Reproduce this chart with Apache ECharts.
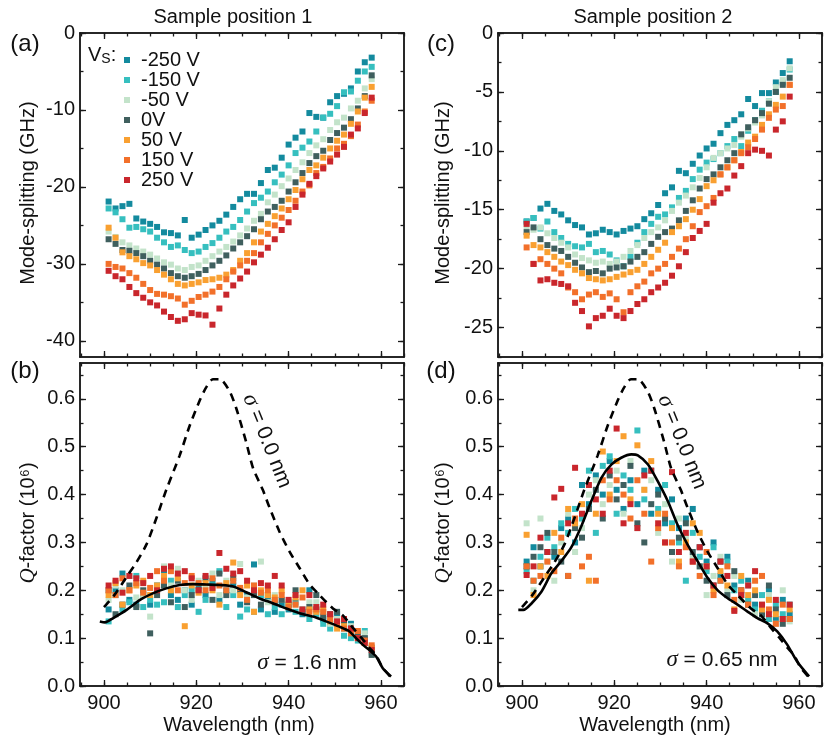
<!DOCTYPE html>
<html>
<head>
<meta charset="utf-8">
<title>Mode splitting and Q-factor vs wavelength</title>
<script src="https://cdn.jsdelivr.net/npm/echarts@6/dist/echarts.min.js"></script>
<style>
  html, body { margin: 0; padding: 0; background: #fff; }
  #chart { width: 830px; height: 747px; }
</style>
</head>
<body>
<div id="chart"></div>
<script>
// wavelength grid of the measured modes (nm)
const wavelength = [901, 902.5, 904, 905.5, 907, 908.5, 910, 911.5, 913, 914.5, 916, 917.5, 919, 920.5, 922, 923.5, 925, 926.5, 928, 929.5, 931, 932.5, 934, 935.5, 937, 938.5, 940, 941.5, 943, 944.5, 946, 947.5, 949, 950.5, 952, 953.5, 955, 956.5, 958]
const voltages = ['-250 V', '-150 V', '-50 V', '0V', '50 V', '150 V', '250 V']
const colors = ['#138a9e', '#36bfbf', '#c3e3ca', '#3f5f5e', '#f9a031', '#f2702a', '#c9262c']

// (a) mode splitting, sample position 1 (GHz)
const splitPos1_m250 = [-21.9, -22.8, -22.5, -22.2, -24.1, -24.5, -24.8, -25.2, -25.9, -26.0, -26.3, -24.3, -26.6, -26.2, -25.6, -25.0, -24.4, -23.6, -22.6, -21.6, -20.9, -20.9, -19.5, -17.8, -17.5, -16.2, -14.5, -13.6, -12.8, -10.4, -10.9, -11.0, -9.0, -8.2, -7.9, -7.2, -5.0, -3.8, -3.2]
const splitPos1_m150 = [-22.8, -23.3, -24.2, -25.3, -25.2, -25.5, -25.8, -26.6, -27.2, -27.8, -27.6, -28.2, -28.6, -28.4, -27.8, -27.3, -26.6, -25.8, -25.2, -24.3, -23.2, -22.1, -21.4, -20.6, -19.4, -18.4, -17.2, -15.6, -14.9, -14.1, -12.8, -11.0, -10.5, -9.5, -7.7, -7.6, -6.2, -5.0, -4.4]
const splitPos1_m50 = [-25.8, -26.5, -27.2, -27.6, -28.0, -28.4, -28.8, -29.3, -29.8, -30.1, -30.6, -30.8, -30.4, -30.2, -29.6, -29.0, -28.4, -27.8, -27.1, -26.3, -25.4, -24.4, -23.5, -22.0, -21.0, -19.9, -18.9, -17.8, -16.8, -15.6, -14.6, -13.8, -12.6, -11.6, -11.0, -9.8, -8.8, -7.2, -6.0]
const splitPos1_0 = [-26.8, -27.4, -28.2, -28.3, -28.6, -29.0, -29.6, -30.1, -30.6, -31.2, -31.6, -31.8, -31.6, -31.3, -30.8, -30.2, -29.6, -28.9, -28.0, -27.2, -26.4, -25.5, -24.2, -23.2, -22.6, -21.8, -20.6, -19.4, -18.2, -16.9, -16.0, -15.3, -13.9, -13.0, -12.3, -11.2, -9.8, -8.2, -5.5]
const splitPos1_p50 = [-25.3, -26.6, -28.5, -29.0, -29.4, -29.9, -30.2, -30.8, -31.4, -32.0, -32.6, -32.8, -32.6, -32.4, -32.1, -32.0, -31.8, -31.4, -30.8, -29.6, -28.6, -27.2, -25.8, -24.8, -23.8, -22.8, -21.6, -20.4, -19.0, -17.8, -17.2, -16.2, -15.0, -14.0, -13.2, -11.8, -10.2, -8.4, -7.0]
const splitPos1_p150 = [-30.0, -30.4, -30.6, -31.2, -31.8, -32.6, -33.4, -33.9, -34.0, -34.2, -34.5, -35.3, -34.8, -34.3, -34.0, -33.6, -33.0, -32.0, -31.0, -30.2, -29.6, -28.6, -27.2, -26.1, -25.0, -24.0, -23.0, -21.8, -20.6, -19.8, -18.2, -17.4, -16.3, -15.0, -14.4, -13.4, -11.9, -10.2, -8.8]
const splitPos1_p250 = [-30.9, -31.6, -32.0, -33.0, -33.8, -34.4, -35.0, -35.4, -36.2, -36.9, -37.4, -37.2, -36.4, -36.6, -36.7, -37.9, -35.8, -34.0, -32.8, -31.9, -31.0, -29.8, -28.8, -27.9, -26.8, -25.6, -24.6, -22.6, -21.0, -19.6, -18.6, -17.6, -16.7, -15.8, -14.8, -13.2, -12.4, -10.4, -8.4]

// (c) mode splitting, sample position 2 (GHz)
const splitPos2_m250 = [-16.0, -15.7, -14.9, -14.5, -15.1, -15.4, -15.9, -16.3, -16.5, -17.1, -17.0, -16.7, -16.9, -17.1, -16.8, -16.6, -16.4, -15.8, -15.3, -14.6, -13.6, -13.1, -11.7, -11.9, -11.1, -10.4, -9.8, -9.4, -8.5, -7.8, -7.4, -6.9, -5.6, -6.2, -5.1, -5.1, -4.2, -3.4, -2.4]
const splitPos2_m150 = [-16.0, -15.7, -16.6, -16.0, -16.9, -17.4, -17.9, -18.1, -18.2, -17.9, -18.6, -18.5, -18.8, -19.3, -19.8, -19.0, -17.8, -16.9, -16.2, -15.6, -15.4, -14.8, -14.0, -13.4, -12.4, -11.6, -11.0, -10.7, -10.2, -9.6, -9.0, -9.6, -8.3, -7.4, -6.6, -5.8, -5.0, -4.2, -3.1]
const splitPos2_m50 = [-16.4, -16.7, -16.5, -17.0, -17.4, -17.8, -18.2, -18.8, -19.1, -19.3, -19.5, -19.4, -19.6, -19.4, -19.0, -18.5, -18.0, -17.4, -16.9, -16.5, -15.9, -15.1, -14.4, -13.8, -13.1, -12.3, -11.4, -10.6, -10.2, -9.8, -9.5, -8.8, -8.1, -7.6, -7.0, -5.8, -4.6, -4.0, -3.0]
const splitPos2_0 = [-16.9, -16.5, -17.5, -18.0, -18.3, -18.5, -19.0, -19.5, -19.9, -20.3, -20.2, -20.4, -20.0, -19.9, -19.8, -19.4, -19.0, -18.6, -17.9, -17.3, -16.9, -16.6, -15.9, -15.1, -14.2, -13.2, -12.4, -12.0, -11.4, -10.8, -10.2, -8.6, -8.0, -7.4, -6.8, -6.0, -5.0, -4.4, -3.8]
const splitPos2_p50 = [-17.2, -18.0, -18.2, -18.6, -19.0, -19.4, -19.7, -20.1, -20.4, -20.8, -20.9, -21.0, -20.9, -20.7, -20.5, -20.3, -20.1, -19.6, -19.0, -18.4, -17.8, -16.9, -16.4, -15.8, -15.0, -14.1, -13.0, -12.5, -12.0, -11.4, -10.8, -10.1, -9.3, -8.8, -7.8, -6.9, -6.1, -5.4, -4.4]
const splitPos2_p150 = [-18.2, -19.6, -19.2, -19.6, -20.0, -20.4, -21.6, -22.0, -22.6, -22.2, -22.0, -22.4, -22.1, -22.6, -23.7, -22.0, -21.5, -21.1, -20.4, -20.0, -19.6, -19.0, -18.3, -17.5, -16.4, -15.2, -14.7, -14.0, -12.0, -11.4, -10.8, -10.2, -9.7, -9.0, -8.2, -7.2, -6.5, -6.2, -4.4]
const splitPos2_p250 = [-16.2, -19.6, -21.0, -20.9, -21.2, -21.3, -21.5, -22.9, -23.6, -24.9, -24.2, -24.0, -23.4, -24.0, -24.2, -23.6, -23.0, -22.6, -22.0, -21.6, -21.2, -20.6, -19.8, -18.6, -17.4, -16.8, -16.2, -14.4, -13.6, -13.2, -12.1, -11.3, -10.2, -9.9, -10.0, -10.4, -8.2, -7.5, -5.4]

// (b) Q-factor, sample position 1 (10^6)
const qPos1_m250 = [0.16, 0.20, 0.235, 0.18, 0.17, 0.19, 0.17, 0.21, 0.235, 0.19, 0.18, 0.20, 0.17, 0.21, 0.19, 0.22, 0.18, 0.20, 0.21, 0.17, 0.19, 0.254, 0.16, 0.18, 0.155, 0.17, 0.16, 0.175, 0.15, 0.20, 0.16, 0.14, 0.13, 0.15, 0.12, 0.13, 0.11, 0.10, 0.08]
const qPos1_m150 = [0.135, 0.19, 0.16, 0.175, 0.23, 0.165, 0.18, 0.17, 0.175, 0.22, 0.165, 0.19, 0.20, 0.155, 0.18, 0.21, 0.24, 0.165, 0.19, 0.145, 0.16, 0.155, 0.19, 0.15, 0.165, 0.15, 0.17, 0.155, 0.16, 0.14, 0.15, 0.13, 0.12, 0.14, 0.105, 0.10, 0.095, 0.115, 0.07]
const qPos1_m50 = [0.18, 0.21, 0.20, 0.23, 0.185, 0.19, 0.145, 0.20, 0.25, 0.21, 0.245, 0.20, 0.18, 0.22, 0.21, 0.235, 0.19, 0.22, 0.20, 0.255, 0.185, 0.21, 0.26, 0.175, 0.19, 0.18, 0.165, 0.17, 0.16, 0.175, 0.175, 0.15, 0.13, 0.14, 0.12, 0.125, 0.105, 0.11, 0.065]
const qPos1_0 = [0.20, 0.15, 0.17, 0.21, 0.165, 0.20, 0.11, 0.19, 0.21, 0.175, 0.22, 0.165, 0.19, 0.20, 0.225, 0.18, 0.235, 0.19, 0.225, 0.20, 0.175, 0.19, 0.17, 0.19, 0.175, 0.18, 0.17, 0.20, 0.155, 0.165, 0.19, 0.145, 0.15, 0.155, 0.13, 0.12, 0.11, 0.10, 0.065]
const qPos1_p50 = [0.19, 0.215, 0.17, 0.20, 0.21, 0.22, 0.19, 0.21, 0.23, 0.20, 0.225, 0.125, 0.21, 0.195, 0.215, 0.20, 0.17, 0.215, 0.258, 0.19, 0.21, 0.155, 0.20, 0.19, 0.185, 0.20, 0.175, 0.185, 0.20, 0.16, 0.155, 0.16, 0.135, 0.12, 0.125, 0.115, 0.10, 0.09, 0.08]
const qPos1_p150 = [0.20, 0.19, 0.225, 0.20, 0.215, 0.195, 0.205, 0.24, 0.22, 0.24, 0.20, 0.215, 0.23, 0.215, 0.20, 0.225, 0.21, 0.20, 0.22, 0.205, 0.18, 0.21, 0.195, 0.20, 0.18, 0.19, 0.165, 0.17, 0.185, 0.155, 0.16, 0.155, 0.14, 0.13, 0.12, 0.11, 0.115, 0.095, 0.085]
const qPos1_p250 = [0.21, 0.22, 0.195, 0.23, 0.225, 0.215, 0.23, 0.20, 0.245, 0.25, 0.235, 0.24, 0.225, 0.20, 0.23, 0.205, 0.278, 0.245, 0.235, 0.24, 0.22, 0.20, 0.215, 0.21, 0.23, 0.21, 0.18, 0.19, 0.16, 0.19, 0.165, 0.17, 0.15, 0.135, 0.14, 0.12, 0.10, 0.09, 0.075]

// (d) Q-factor, sample position 2 (10^6)
const qPos2_m250 = [0.26, 0.29, 0.25, 0.28, 0.27, 0.33, 0.35, 0.30, 0.42, 0.38, 0.44, 0.40, 0.47, 0.41, 0.37, 0.43, 0.38, 0.45, 0.36, 0.41, 0.34, 0.39, 0.33, 0.35, 0.37, 0.29, 0.26, 0.30, 0.23, 0.27, 0.21, 0.19, 0.22, 0.17, 0.15, 0.20, 0.14, 0.18, 0.15]
const qPos2_m150 = [0.24, 0.22, 0.27, 0.31, 0.29, 0.34, 0.32, 0.37, 0.35, 0.45, 0.32, 0.46, 0.48, 0.36, 0.44, 0.41, 0.534, 0.39, 0.45, 0.37, 0.42, 0.34, 0.30, 0.22, 0.32, 0.27, 0.24, 0.29, 0.22, 0.26, 0.20, 0.22, 0.18, 0.16, 0.19, 0.14, 0.17, 0.15, 0.17]
const qPos2_m50 = [0.34, 0.20, 0.35, 0.26, 0.22, 0.30, 0.36, 0.28, 0.33, 0.40, 0.43, 0.38, 0.42, 0.45, 0.36, 0.47, 0.33, 0.41, 0.43, 0.32, 0.38, 0.26, 0.35, 0.31, 0.27, 0.25, 0.19, 0.23, 0.27, 0.20, 0.23, 0.18, 0.21, 0.15, 0.17, 0.19, 0.13, 0.20, 0.135]
const qPos2_0 = [0.25, 0.27, 0.29, 0.32, 0.28, 0.26, 0.23, 0.33, 0.31, 0.37, 0.41, 0.35, 0.44, 0.39, 0.42, 0.46, 0.34, 0.30, 0.38, 0.40, 0.35, 0.28, 0.31, 0.34, 0.28, 0.25, 0.22, 0.21, 0.26, 0.19, 0.24, 0.20, 0.17, 0.19, 0.15, 0.21, 0.16, 0.13, 0.14]
const qPos2_p50 = [0.316, 0.19, 0.25, 0.23, 0.32, 0.28, 0.37, 0.34, 0.38, 0.22, 0.36, 0.49, 0.40, 0.47, 0.522, 0.39, 0.503, 0.41, 0.47, 0.36, 0.30, 0.33, 0.26, 0.30, 0.34, 0.32, 0.25, 0.20, 0.24, 0.21, 0.16, 0.23, 0.19, 0.20, 0.16, 0.18, 0.15, 0.14, 0.16]
const qPos2_p150 = [0.25, 0.22, 0.23, 0.26, 0.24, 0.31, 0.23, 0.35, 0.25, 0.27, 0.22, 0.43, 0.39, 0.43, 0.40, 0.35, 0.43, 0.36, 0.26, 0.33, 0.36, 0.30, 0.25, 0.29, 0.26, 0.23, 0.28, 0.19, 0.22, 0.25, 0.18, 0.20, 0.17, 0.22, 0.23, 0.16, 0.13, 0.17, 0.14]
const qPos2_p250 = [0.232, 0.25, 0.31, 0.28, 0.394, 0.412, 0.34, 0.456, 0.36, 0.42, 0.39, 0.36, 0.45, 0.538, 0.34, 0.38, 0.33, 0.44, 0.45, 0.34, 0.30, 0.447, 0.28, 0.32, 0.26, 0.29, 0.25, 0.21, 0.26, 0.23, 0.157, 0.19, 0.21, 0.24, 0.17, 0.15, 0.18, 0.14, 0.17]

// simulated Q curves
const sigma0Wl = [900, 902.4, 904.9, 907, 909.2, 911.4, 913.5, 916.4, 918.6, 920.8, 922.2, 923.6, 925.1, 927.2, 928.6, 930.8, 932.3, 934.4, 935.9, 938, 940.2, 942.4, 944.5, 946.7, 949.6, 951.7, 953.9, 956.1, 957.5, 959, 960.4, 962]
const sigma0Q = [0.165, 0.192, 0.228, 0.258, 0.296, 0.352, 0.41, 0.482, 0.545, 0.598, 0.625, 0.641, 0.641, 0.616, 0.582, 0.51, 0.455, 0.41, 0.372, 0.323, 0.281, 0.246, 0.213, 0.19, 0.162, 0.148, 0.122, 0.097, 0.08, 0.063, 0.038, 0.02]
const sigma16Wl = [899.1, 900.2, 902, 904.9, 907.8, 910.7, 913.5, 916.4, 919.3, 922.2, 925.1, 928, 930.8, 933.7, 936.6, 939.5, 942.4, 945.3, 948.1, 951, 953.2, 954.6, 956.1, 957.5, 959, 960.4, 962.2]
const sigma16Q = [0.135, 0.133, 0.142, 0.159, 0.18, 0.194, 0.204, 0.211, 0.213, 0.212, 0.211, 0.208, 0.196, 0.183, 0.173, 0.162, 0.152, 0.145, 0.135, 0.124, 0.114, 0.1, 0.086, 0.075, 0.061, 0.037, 0.02]
const sigma065Wl = [899.2, 900.3, 902.1, 904.2, 906.4, 908.6, 910.7, 912.9, 915, 917.2, 919.4, 921.5, 923.7, 925.1, 927.3, 929.4, 931.6, 933.7, 935.9, 938.1, 940.2, 942.4, 944.5, 946.7, 948.8, 951, 953.2, 955.3, 957.5, 959.6, 962.2]
const sigma065Q = [0.159, 0.159, 0.173, 0.197, 0.236, 0.262, 0.29, 0.335, 0.386, 0.435, 0.463, 0.477, 0.484, 0.482, 0.463, 0.428, 0.386, 0.337, 0.295, 0.26, 0.226, 0.2, 0.184, 0.17, 0.156, 0.142, 0.131, 0.114, 0.086, 0.051, 0.02]

// tick positions
const wlTicks = [900, 920, 940, 960]
const wlMinor = [895, 900, 905, 910, 915, 920, 925, 930, 935, 940, 945, 950, 955, 960, 965]
const split1Ticks = [-40, -30, -20, -10, 0]
const split1Minor = [-40, -35, -30, -25, -20, -15, -10, -5, 0]
const split2Ticks = [-25, -20, -15, -10, -5, 0]
const split2Minor = [-27.5, -25, -22.5, -20, -17.5, -15, -12.5, -10, -7.5, -5, -2.5, 0]
const qTicks = [0, 0.1, 0.2, 0.3, 0.4, 0.5, 0.6]
const qMinor = [0, 0.05, 0.1, 0.15, 0.2, 0.25, 0.3, 0.35, 0.4, 0.45, 0.5, 0.55, 0.6, 0.65]

const FONT = '"Liberation Sans", Arial, Helvetica, sans-serif'
const SERIF = '"Liberation Serif", "DejaVu Serif", serif'
const INK = '#1a1a1a'

const grids = [
  { left: 80, top: 33, width: 324, height: 324 },
  { left: 80, top: 363, width: 324, height: 323 },
  { left: 498, top: 33, width: 324, height: 324 },
  { left: 498, top: 363, width: 324, height: 323 }
]
const xRange = [894.8, 965]
const yRanges = [[-42.1, 0], [0, 0.675], [-27.5, 0], [0, 0.675]]
const yMajor = [split1Ticks, qTicks, split2Ticks, qTicks]
const yMinor = [split1Minor, qMinor, split2Minor, qMinor]
const yFmt = [v => String(v), v => v.toFixed(1), v => String(v), v => v.toFixed(1)]

const xAxes = []
const yAxes = []

const makeAxis = (grid, pos, range, ticks, len, labels, fmt) => ({
  type: 'value',
  gridIndex: grid,
  position: pos,
  min: range[0],
  max: range[1],
  axisLine: { show: true, onZero: false, lineStyle: { color: INK, width: 1.5 } },
  axisTick: { show: true, inside: true, length: len, customValues: ticks, lineStyle: { color: INK, width: 1.3 } },
  axisLabel: labels
    ? { show: true, customValues: labels, formatter: fmt, color: '#111', fontSize: 20, fontFamily: FONT, margin: pos === 'left' ? 5 : 7 }
    : { show: false },
  splitLine: { show: false }
})

grids.forEach((g, i) => {
  const showX = i === 1 || i === 3
  // index 4*i is the data axis of each panel
  xAxes.push(makeAxis(i, 'bottom', xRange, wlTicks, 6, showX ? wlTicks : null, v => String(v)))
  xAxes.push(makeAxis(i, 'bottom', xRange, wlMinor, 3.5, null))
  xAxes.push(makeAxis(i, 'top', xRange, wlTicks, 6, null))
  xAxes.push(makeAxis(i, 'top', xRange, wlMinor, 3.5, null))
  yAxes.push(makeAxis(i, 'left', yRanges[i], yMajor[i], 6, yMajor[i], yFmt[i]))
  yAxes.push(makeAxis(i, 'left', yRanges[i], yMinor[i], 3.5, null))
  yAxes.push(makeAxis(i, 'right', yRanges[i], yMajor[i], 6, null))
  yAxes.push(makeAxis(i, 'right', yRanges[i], yMinor[i], 3.5, null))
})

const series = []

const addScatter = (panel, sets) => {
  sets.forEach((vals, k) => {
    series.push({
      name: voltages[k],
      type: 'scatter',
      xAxisIndex: panel * 4,
      yAxisIndex: panel * 4,
      symbol: 'rect',
      symbolSize: 6,
      itemStyle: { color: colors[k], opacity: 1 },
      data: vals.map((v, i) => [wavelength[i], v])
    })
  })
}

const addCurve = (panel, wl, q, dashed) => {
  series.push({
    type: 'line',
    xAxisIndex: panel * 4,
    yAxisIndex: panel * 4,
    showSymbol: false,
    smooth: 0.25,
    z: 5,
    lineStyle: { color: '#000', width: 2.6, type: dashed ? [8, 6] : 'solid' },
    data: wl.map((w, i) => [w, q[i]])
  })
}

addScatter(0, [splitPos1_m250, splitPos1_m150, splitPos1_m50, splitPos1_0, splitPos1_p50, splitPos1_p150, splitPos1_p250])
addScatter(1, [qPos1_m250, qPos1_m150, qPos1_m50, qPos1_0, qPos1_p50, qPos1_p150, qPos1_p250])
addScatter(2, [splitPos2_m250, splitPos2_m150, splitPos2_m50, splitPos2_0, splitPos2_p50, splitPos2_p150, splitPos2_p250])
addScatter(3, [qPos2_m250, qPos2_m150, qPos2_m50, qPos2_0, qPos2_p50, qPos2_p150, qPos2_p250])
addCurve(1, sigma0Wl, sigma0Q, true)
addCurve(1, sigma16Wl, sigma16Q, false)
addCurve(3, sigma0Wl, sigma0Q, true)
addCurve(3, sigma065Wl, sigma065Q, false)

const txt = (x, y, text, size, extra) => Object.assign({
  type: 'text',
  x, y,
  style: { text, fontSize: size, fontFamily: FONT, fill: '#111', align: 'center', verticalAlign: 'middle' }
}, extra || {})

const sigmaRich = { i: { fontStyle: 'italic', fontFamily: SERIF, fontSize: 23, fill: '#111' } }
const qRich = { q: { fontStyle: 'italic', fontFamily: SERIF, fontSize: 21, fill: '#111' } }

const graphic = [
  txt(233, 17, 'Sample position 1', 20),
  txt(653, 17, 'Sample position 2', 20),
  txt(25, 44, '(a)', 24),
  txt(25, 371, '(b)', 24),
  txt(441, 44, '(c)', 24),
  txt(441, 371, '(d)', 24),
  txt(28, 193, 'Mode-splitting (GHz)', 20, { rotation: Math.PI / 2 }),
  txt(443, 193, 'Mode-splitting (GHz)', 20, { rotation: Math.PI / 2 }),
  { type: 'text', x: 28, y: 523, rotation: Math.PI / 2,
    style: { text: '{q|Q}-factor (10⁶)', rich: qRich, fontSize: 20, fontFamily: FONT, fill: '#111', align: 'center', verticalAlign: 'middle' } },
  { type: 'text', x: 443, y: 523, rotation: Math.PI / 2,
    style: { text: '{q|Q}-factor (10⁶)', rich: qRich, fontSize: 20, fontFamily: FONT, fill: '#111', align: 'center', verticalAlign: 'middle' } },
  txt(239, 725, 'Wavelength (nm)', 20),
  txt(655, 725, 'Wavelength (nm)', 20),
  { type: 'text', x: 267, y: 441, rotation: -1.19,
    style: { text: '{i|σ} = 0.0 nm', rich: sigmaRich, fontSize: 21, fontFamily: FONT, fill: '#111', align: 'center', verticalAlign: 'middle' } },
  { type: 'text', x: 682, y: 442, rotation: -1.19,
    style: { text: '{i|σ} = 0.0 nm', rich: sigmaRich, fontSize: 21, fontFamily: FONT, fill: '#111', align: 'center', verticalAlign: 'middle' } },
  { type: 'text', x: 307, y: 663,
    style: { text: '{i|σ} = 1.6 nm', rich: sigmaRich, fontSize: 21, fontFamily: FONT, fill: '#111', align: 'center', verticalAlign: 'middle' } },
  { type: 'text', x: 722, y: 660,
    style: { text: '{i|σ} = 0.65 nm', rich: sigmaRich, fontSize: 21, fontFamily: FONT, fill: '#111', align: 'center', verticalAlign: 'middle' } },
  { type: 'text', x: 88, y: 55,
    style: { text: 'V{s|S}:', rich: { s: { fontSize: 14, fontFamily: FONT, fill: '#111', padding: [9, 0, 0, 0] } }, fontSize: 20, fontFamily: FONT, fill: '#111', align: 'left', verticalAlign: 'middle' } }
]

const chart = echarts.init(document.getElementById('chart'), null, { renderer: 'canvas' })
chart.setOption({
  animation: false,
  backgroundColor: '#fff',
  grid: grids.map(g => Object.assign({ containLabel: false }, g)),
  xAxis: xAxes,
  yAxis: yAxes,
  legend: {
    data: voltages,
    orient: 'vertical',
    left: 119,
    top: 45,
    icon: 'rect',
    itemWidth: 6,
    itemHeight: 6,
    itemGap: 0,
    selectedMode: false,
    textStyle: { fontSize: 20, fontFamily: FONT, color: '#111', lineHeight: 20, padding: [0, 0, 0, 6] }
  },
  graphic,
  series
})
</script>
</body>
</html>
